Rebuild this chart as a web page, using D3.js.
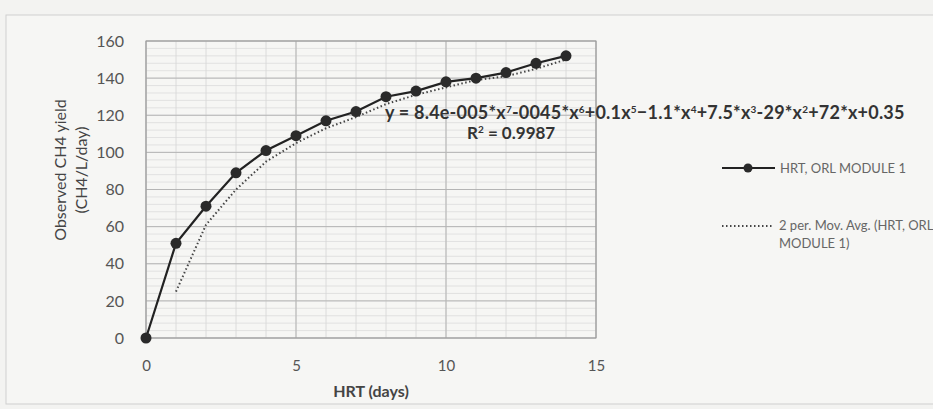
<!DOCTYPE html>
<html lang="en">
<head>
  <meta charset="UTF-8" />
  <title>Observed CH4 yield vs HRT</title>
  <script src="https://d3js.org/d3.v7.min.js"></script>
  <style>
    body {
      margin: 0;
      background-color: #f3f3f1;
      font-family: Lato, "Open Sans", sans-serif;
    }
    svg { display: block; }
    .tick text { fill: #555; font-size: 15px; font-family: Lato, sans-serif; }
    .y-ticks .tick text { font-size: 16px; }
    .axis-title { fill: #444; font-size: 16px; }
    .legend text { fill: #666; font-size: 13px; }
  </style>
</head>
<body>
  <svg></svg>

  <script>
    // values
    const hrt = [0, 1, 2, 3, 4, 5, 6, 7, 8, 9, 10, 11, 12, 13, 14];
    const yieldVals = [0, 51, 71, 89, 101, 109, 117, 122, 130, 133, 138, 140, 143, 148, 152];
    const avgHrt = [1, 2, 3, 4, 5, 6, 7, 8, 9, 10, 11, 12, 13, 14];
    const avgVals = [25, 61, 80, 95, 105, 113, 119, 126, 131, 135, 139, 141, 145, 150];
    const xTicks = [0, 5, 10, 15];
    const yTicks = [0, 20, 40, 60, 80, 100, 120, 140, 160];

    const width = 933;
    const height = 409;
    const plot = { left: 146, right: 596, top: 41, bottom: 338 };

    const svg = d3.select("svg")
      .attr("width", width)
      .attr("height", height);

    // chart frame
    svg.append("rect")
      .attr("x", 6).attr("y", 15)
      .attr("width", width - 4).attr("height", 389)
      .attr("fill", "#f6f6f4")
      .attr("stroke", "#cfcfcf");

    const x = d3.scaleLinear().domain([0, 15]).range([plot.left, plot.right]);
    const y = d3.scaleLinear().domain([0, 160]).range([plot.bottom, plot.top]);

    // minor gridlines
    const grid = svg.append("g");
    grid.selectAll("line.minor-y")
      .data(d3.range(0, 161, 4))
      .enter().append("line")
      .attr("x1", plot.left).attr("x2", plot.right)
      .attr("y1", d => y(d)).attr("y2", d => y(d))
      .attr("stroke", "#dcdcdc").attr("stroke-width", 0.8);
    grid.selectAll("line.minor-x")
      .data(d3.range(0, 15.01, 1))
      .enter().append("line")
      .attr("x1", d => x(d)).attr("x2", d => x(d))
      .attr("y1", plot.top).attr("y2", plot.bottom)
      .attr("stroke", "#d6d6d6").attr("stroke-width", 0.8);

    // major gridlines
    grid.selectAll("line.major-y")
      .data(yTicks)
      .enter().append("line")
      .attr("x1", plot.left).attr("x2", plot.right)
      .attr("y1", d => y(d)).attr("y2", d => y(d))
      .attr("stroke", "#b5b5b5").attr("stroke-width", 1);
    grid.selectAll("line.major-x")
      .data(xTicks)
      .enter().append("line")
      .attr("x1", d => x(d)).attr("x2", d => x(d))
      .attr("y1", plot.top).attr("y2", plot.bottom)
      .attr("stroke", "#b5b5b5").attr("stroke-width", 1);

    svg.append("rect")
      .attr("x", plot.left).attr("y", plot.top)
      .attr("width", plot.right - plot.left).attr("height", plot.bottom - plot.top)
      .attr("fill", "none").attr("stroke", "#9a9a9a");

    // axes
    const xAxis = svg.append("g")
      .attr("transform", `translate(0,${plot.bottom})`)
      .call(d3.axisBottom(x).tickValues(xTicks).tickSize(0).tickPadding(22));
    xAxis.select(".domain").remove();

    const yAxis = svg.append("g")
      .attr("class", "y-ticks")
      .attr("transform", `translate(${plot.left},0)`)
      .call(d3.axisLeft(y).tickValues(yTicks).tickSize(0).tickPadding(22));
    yAxis.select(".domain").remove();

    svg.append("text")
      .attr("class", "axis-title")
      .attr("x", 371).attr("y", 397)
      .attr("text-anchor", "middle")
      .attr("font-weight", "bold")
      .attr("font-size", 17)
      .text("HRT (days)");

    const yTitle = svg.append("text")
      .attr("class", "axis-title")
      .attr("transform", "translate(66,170) rotate(-90)")
      .attr("text-anchor", "middle");
    yTitle.append("tspan").attr("x", 0).attr("dy", 0).text("Observed CH4 yield");
    yTitle.append("tspan").attr("x", 0).attr("dy", 21).text("(CH4/L/day)");

    // moving average (dotted)
    const avgLine = d3.line().x((d, i) => x(avgHrt[i])).y(d => y(d));
    svg.append("path")
      .datum(avgVals)
      .attr("d", avgLine)
      .attr("fill", "none")
      .attr("stroke", "#444")
      .attr("stroke-width", 2)
      .attr("stroke-dasharray", "1.5,2.5");

    // observed series
    const line = d3.line().x((d, i) => x(hrt[i])).y(d => y(d));
    svg.append("path")
      .datum(yieldVals)
      .attr("d", line)
      .attr("fill", "none")
      .attr("stroke", "#222")
      .attr("stroke-width", 2.2);

    svg.append("g")
      .selectAll("circle")
      .data(yieldVals)
      .enter().append("circle")
      .attr("cx", (d, i) => x(hrt[i]))
      .attr("cy", d => y(d))
      .attr("r", 5.5)
      .attr("fill", "#2a2a2a");

    // trendline equation (base text, superscript)
    function supText(sel, parts) {
      let raised = false;
      parts.forEach(p => {
        sel.append("tspan").attr("dy", raised ? 6 : 0).text(p[0]);
        raised = false;
        if (p[1]) {
          sel.append("tspan").attr("font-size", 10).attr("dy", -6).text(p[1]);
          raised = true;
        }
      });
    }

    const eq = svg.append("text")
      .attr("x", 385).attr("y", 119)
      .attr("font-size", 18)
      .attr("letter-spacing", 0.2)
      .attr("font-weight", "bold")
      .attr("fill", "#333");
    supText(eq, [
      ["y = 8.4e-005*x", "7"], ["-0045*x", "6"], ["+0.1x", "5"], ["\u22121.1*x", "4"],
      ["+7.5*x", "3"], ["-29*x", "2"], ["+72*x+0.35", null]
    ]);

    const r2 = svg.append("text")
      .attr("x", 467).attr("y", 139)
      .attr("font-size", 17)
      .attr("font-weight", "bold")
      .attr("fill", "#333");
    supText(r2, [["R", "2"], [" = 0.9987", null]]);

    // legend
    const legend = svg.append("g").attr("class", "legend");
    legend.append("line")
      .attr("x1", 722).attr("x2", 775).attr("y1", 168).attr("y2", 168)
      .attr("stroke", "#222").attr("stroke-width", 2.2);
    legend.append("circle")
      .attr("cx", 748).attr("cy", 168).attr("r", 4.5).attr("fill", "#2a2a2a");
    legend.append("text").attr("x", 780).attr("y", 173).text("HRT, ORL   MODULE 1");

    legend.append("line")
      .attr("x1", 722).attr("x2", 773).attr("y1", 226).attr("y2", 226)
      .attr("stroke", "#444").attr("stroke-width", 2)
      .attr("stroke-dasharray", "1.5,2.5");
    const lt = legend.append("text").attr("x", 779).attr("y", 230);
    lt.append("tspan").attr("x", 779).text("2 per. Mov. Avg. (HRT, ORL");
    lt.append("tspan").attr("x", 779).attr("dy", 18).text("MODULE 1)");
  </script>
</body>
</html>
